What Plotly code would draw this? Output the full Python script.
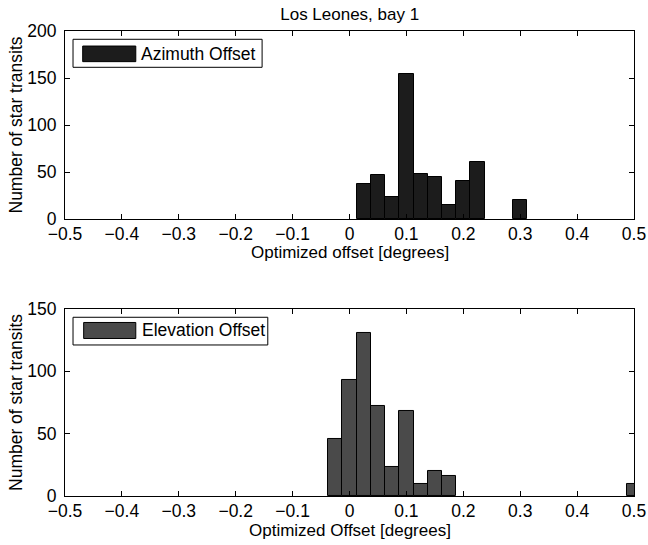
import plotly.graph_objects as go

# ---- data ----
bin_width = 0.025
az_centers = [0.025, 0.05, 0.075, 0.1, 0.125, 0.15, 0.175, 0.2, 0.225, 0.3]
az_counts = [37, 47, 23, 154, 48, 45, 15, 40, 61, 20]
el_centers = [-0.025, 0.0, 0.025, 0.05, 0.075, 0.1, 0.125, 0.15, 0.175, 0.5]
el_counts = [46, 93, 131, 72, 23, 68, 10, 20, 16, 10]

x_ticks = [-0.5, -0.4, -0.3, -0.2, -0.1, 0, 0.1, 0.2, 0.3, 0.4, 0.5]
az_yticks = [0, 50, 100, 150, 200]
el_yticks = [0, 50, 100, 150]

title_text = "Los Leones, bay 1"
az_label = "Azimuth Offset"
el_label = "Elevation Offset"
az_xtitle = "Optimized offset [degrees]"
el_xtitle = "Optimized Offset [degrees]"
ytitle = "Number of star transits"

AZ_COLOR = "#1c1c1c"
EL_COLOR = "#4a4a4a"
FONT = "Liberation Sans, Arial, Helvetica, sans-serif"
FS = 17.5

fig = go.Figure()
fig.add_trace(go.Bar(x=az_centers, y=az_counts, width=bin_width,
                     marker=dict(color=AZ_COLOR, line=dict(color="black", width=1)),
                     xaxis="x", yaxis="y", showlegend=False))
fig.add_trace(go.Bar(x=el_centers, y=el_counts, width=bin_width,
                     marker=dict(color=EL_COLOR, line=dict(color="black", width=1)),
                     xaxis="x2", yaxis="y2", showlegend=False))

axis_common = dict(showline=True, linecolor="black", linewidth=1, mirror="ticks",
                   ticks="inside", ticklen=5, tickcolor="black", tickwidth=1,
                   showgrid=False, zeroline=False, automargin=False,
                   tickfont=dict(family=FONT, size=FS, color="black"))

fig.update_layout(
    width=648, height=545,
    margin=dict(l=65, r=14, t=31, b=49),
    paper_bgcolor="white", plot_bgcolor="white",
    bargap=0,
    font=dict(family=FONT, size=FS, color="black"),
    title=dict(text=title_text, x=349.7 / 648, xanchor="center", xref="container",
               y=1 - 14 / 545, yanchor="middle", yref="container",
               font=dict(family=FONT, size=17, color="black")),
    xaxis=dict(domain=[0, 1], anchor="y", range=[-0.5, 0.5], tickvals=x_ticks,
               ticklabelstandoff=-1, **axis_common),
    yaxis=dict(domain=[0.5957, 1], anchor="x", range=[0, 200], tickvals=az_yticks,
               ticklabelstandoff=4,
               title=dict(text=ytitle, standoff=0, font=dict(size=FS)), **axis_common),
    xaxis2=dict(domain=[0, 1], anchor="y2", range=[-0.5, 0.5], tickvals=x_ticks,
                ticklabelstandoff=-1, **axis_common),
    yaxis2=dict(domain=[0, 0.4022], anchor="x2", range=[0, 150], tickvals=el_yticks,
                ticklabelstandoff=4,
                title=dict(text=ytitle, standoff=0, font=dict(size=FS)), **axis_common),
)

# x-axis titles as annotations (placed closer to the tick labels, as in the reference)
for xr, yr, txt in [("x domain", "y domain", az_xtitle), ("x2 domain", "y2 domain", el_xtitle)]:
    fig.add_annotation(xref=xr, yref=yr, x=0.5, y=0, yshift=-34, text=txt, showarrow=False,
                       xanchor="center", yanchor="middle",
                       font=dict(family=FONT, size=17, color="black"))

def add_legend(xr, yr, box, patch, text_x, text_y, color, label):
    fig.add_shape(type="rect", xref=xr, yref=yr, x0=box[0], x1=box[1], y0=box[2], y1=box[3],
                  fillcolor="white", line=dict(color="black", width=1))
    fig.add_shape(type="rect", xref=xr, yref=yr, x0=patch[0], x1=patch[1], y0=patch[2], y1=patch[3],
                  fillcolor=color, line=dict(color="black", width=1))
    fig.add_annotation(xref=xr, yref=yr, x=text_x, y=text_y, text=label, showarrow=False,
                       xanchor="left", yanchor="middle",
                       font=dict(family=FONT, size=FS, color="black"))

add_legend("x domain", "y domain", (0.0141, 0.3464, 0.8069, 0.9559),
           (0.0311, 0.1244, 0.837, 0.920), 0.1300, 0.880, AZ_COLOR, az_label)
add_legend("x2 domain", "y2 domain", (0.0141, 0.3564, 0.8075, 0.9556),
           (0.0328, 0.1244, 0.8422, 0.9278), 0.1320, 0.885, EL_COLOR, el_label)

fig.write_html("out.html", config={"displayModeBar": False},
               post_script="document.body.style.margin='0px';document.body.style.overflow='hidden';")
